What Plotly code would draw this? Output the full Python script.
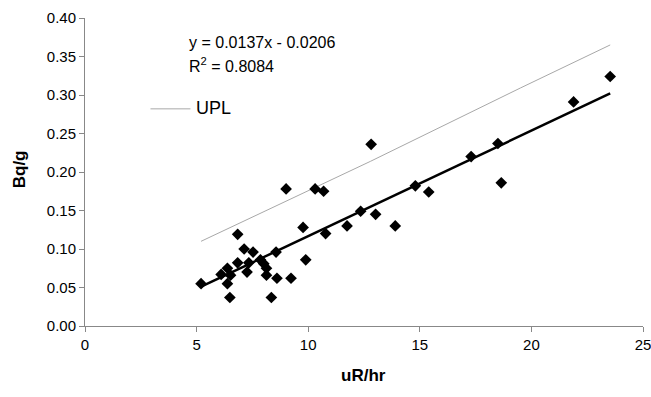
import plotly.graph_objects as go

# Measured data points (uR/hr, Bq/g)
x_vals = [5.2, 6.1, 6.38, 6.52, 6.38, 6.49, 6.84, 6.84, 7.13, 7.26, 7.34, 7.53,
          7.86, 8.01, 8.13, 8.13, 8.35, 8.6, 8.56, 9.23, 9.01, 9.77, 9.89, 10.31,
          10.69, 10.78, 11.74, 12.35, 12.82, 13.02, 13.9, 14.8, 15.4, 17.3, 18.5,
          18.65, 21.89, 23.53]
y_vals = [0.055, 0.067, 0.075, 0.066, 0.055, 0.037, 0.119, 0.082, 0.100, 0.070,
          0.082, 0.096, 0.086, 0.081, 0.075, 0.066, 0.037, 0.062, 0.096, 0.062,
          0.178, 0.128, 0.086, 0.178, 0.175, 0.120, 0.130, 0.149, 0.236, 0.145,
          0.130, 0.182, 0.174, 0.220, 0.237, 0.186, 0.291, 0.324]

# Linear trend line
trend_x = [5.2, 23.53]
trend_y = [0.051, 0.302]

# Upper prediction limit
upl_x = [5.2, 12.8, 19.5, 23.53]
upl_y = [0.110, 0.214, 0.309, 0.365]

eq_text = "y = 0.0137x - 0.0206"
r2_text = "R<sup>2</sup> = 0.8084"
x_ticks = [0, 5, 10, 15, 20, 25]
y_ticks = [0.00, 0.05, 0.10, 0.15, 0.20, 0.25, 0.30, 0.35, 0.40]

FONT = "Liberation Sans, Arial, sans-serif"
W, H = 651, 397
L, R, T, B = 84.5, 8.3, 18, 70.5
PW, PH = W - L - R, H - T - B


def px(xp):
    return (xp - L) / PW


def py(yp):
    return (H - B - yp) / PH


fig = go.Figure()
fig.add_trace(go.Scatter(x=upl_x, y=upl_y, mode="lines",
                         line=dict(color="#a8a8a8", width=1), name="UPL",
                         showlegend=False))
fig.add_trace(go.Scatter(x=trend_x, y=trend_y, mode="lines",
                         line=dict(color="black", width=2.5), showlegend=False))
fig.add_trace(go.Scatter(x=x_vals, y=y_vals, mode="markers",
                         marker=dict(symbol="diamond", size=9, color="black"),
                         showlegend=False, cliponaxis=False))

axis_common = dict(showgrid=False, zeroline=False, showline=True,
                   linecolor="#888888", linewidth=1, ticks="outside",
                   ticklen=5, tickcolor="#888888", automargin=False,
                   ticklabeloverflow="allow",
                   tickfont=dict(family=FONT, size=15, color="black"))

fig.update_xaxes(range=[0, 25], tickvals=x_ticks, **axis_common)
fig.update_yaxes(range=[0, 0.40], tickvals=y_ticks, tickformat=".2f", **axis_common)

# Axis titles
fig.add_annotation(xref="paper", yref="paper", x=px(363), y=py(376),
                   text="<b>uR/hr</b>", showarrow=False,
                   xanchor="center", yanchor="middle",
                   font=dict(family=FONT, size=17, color="black"))
fig.add_annotation(xref="paper", yref="paper", x=px(19), y=py(170),
                   text="<b>Bq/g</b>", showarrow=False, textangle=-90,
                   xanchor="center", yanchor="middle",
                   font=dict(family=FONT, size=17, color="black"))

# Legend for UPL (line sample + label)
fig.add_shape(type="line", xref="paper", yref="paper",
              x0=px(150), x1=px(190), y0=py(109), y1=py(109),
              line=dict(color="#a8a8a8", width=1))
fig.add_annotation(xref="paper", yref="paper", x=px(194), y=py(108),
                   text="UPL", showarrow=False, xanchor="left", yanchor="middle",
                   font=dict(family=FONT, size=18, color="black"))

# Regression equation
fig.add_annotation(xref="paper", yref="paper", x=px(187), y=py(43),
                   text=eq_text, showarrow=False,
                   xanchor="left", yanchor="middle",
                   font=dict(family=FONT, size=16, color="black"))
fig.add_annotation(xref="paper", yref="paper", x=px(187), y=py(65),
                   text=r2_text, showarrow=False,
                   xanchor="left", yanchor="middle",
                   font=dict(family=FONT, size=16, color="black"))

fig.update_layout(width=W, height=H,
                  margin=dict(l=L, r=R, t=T, b=B, autoexpand=False),
                  paper_bgcolor="white", plot_bgcolor="white",
                  font=dict(family=FONT, color="black"))

fig.write_html("out.html", config={"displayModeBar": False},
               post_script="document.body.style.margin='0';document.body.style.padding='0';document.body.style.overflow='hidden';")
